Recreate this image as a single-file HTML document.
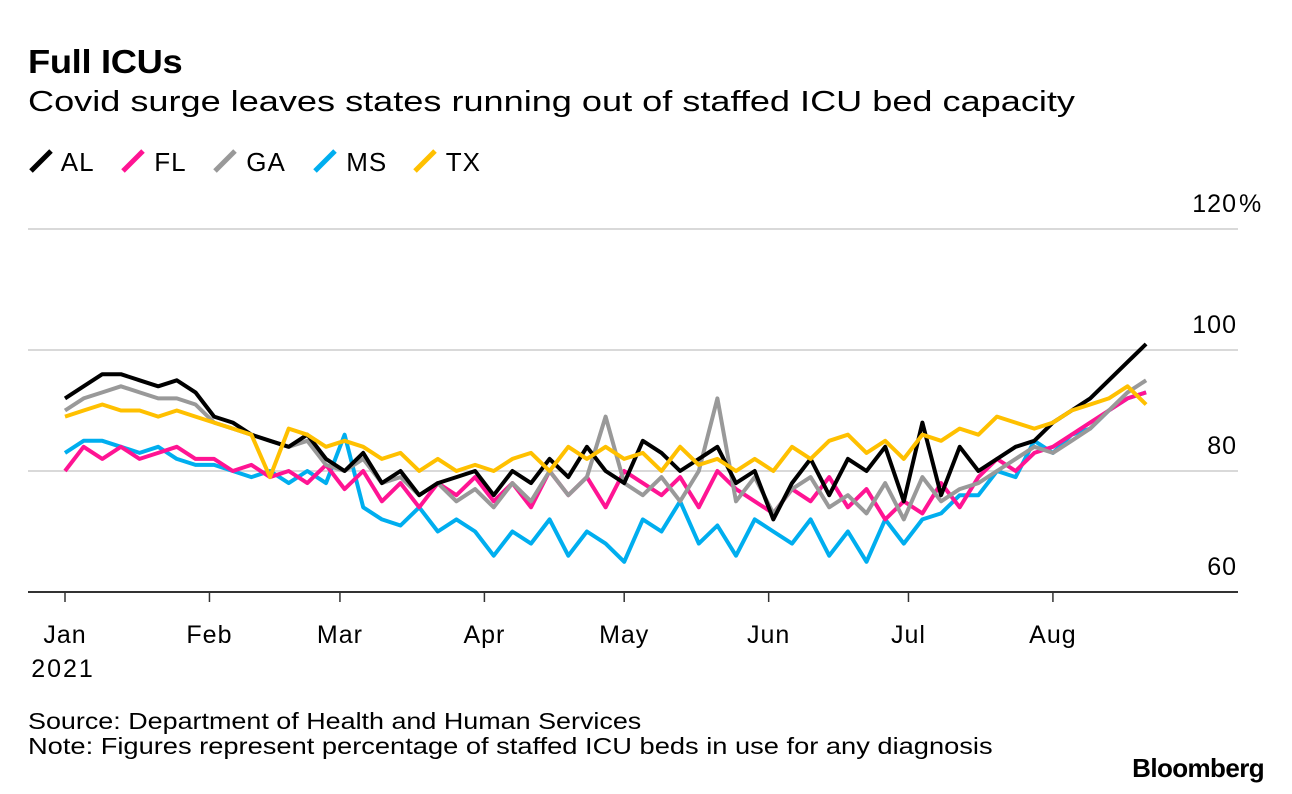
<!DOCTYPE html>
<html><head><meta charset="utf-8"><style>
body{margin:0;background:#fff;font-family:"Liberation Sans",sans-serif;}
.t{position:absolute;white-space:nowrap;color:#000;transform-origin:0 0}
</style></head><body>
<div style="position:relative;width:1292px;height:794px;overflow:hidden">
<div class="t" style="left:28px;top:43px;font-size:33px;font-weight:bold;letter-spacing:-0.3px;transform:scaleX(1.1)">Full ICUs</div>
<div class="t" style="left:28px;top:86px;font-size:29px;transform:scaleX(1.245)">Covid surge leaves states running out of staffed ICU bed capacity</div>
<div id="legend" style="position:absolute;left:28px;top:147px;height:30px"></div>
<svg id="chart" width="1292" height="794" style="position:absolute;left:0;top:0"></svg>
<div class="t" style="left:28px;top:708px;font-size:23px;transform:scaleX(1.17)">Source: Department of Health and Human Services</div>
<div class="t" style="left:28px;top:733px;font-size:23px;transform:scaleX(1.185)">Note: Figures represent percentage of staffed ICU beds in use for any diagnosis</div>
<div class="t" style="right:28px;top:753px;font-size:26px;font-weight:bold;letter-spacing:-0.6px">Bloomberg</div>
</div>
<script>
const states=["AL","FL","GA","MS","TX"];
const colors=["#000000","#ff1493","#999999","#00aeef","#ffc000"];
const dayStep=4;
const AL=[92,94,96,96,95,94,95,93, 89,88,86,85,84,86,82, 80,83,78,80,76,78,79,80, 76,80,78,82,79,84,80, 78,85,83,80,82,84,78,80, 72,78,82,76,82,80,84, 75,88,76,84,80,82,84,85, 88,90,92,95,98,101];
const FL=[80,84,82,84,82,83,84,82, 82,80,81,79,80,78,81, 77,80,75,78,74,78,76,79, 75,78,74,80,76,79,74, 80,78,76,79,74,80,77,75, 73,77,75,79,74,77,72, 75,73,78,74,79,82,80,83, 84,86,88,90,92,93];
const GA=[90,92,93,94,93,92,92,91, 88,87,86,85,84,85,81, 80,82,78,79,76,78,75,77, 74,78,75,80,76,79,89, 78,76,79,75,80,92,75,79, 73,77,79,74,76,73,78, 72,79,75,77,78,80,82,84, 83,85,87,90,93,95];
const MS=[83,85,85,84,83,84,82,81, 81,80,79,80,78,80,78, 86,74,72,71,74,70,72,70, 66,70,68,72,66,70,68, 65,72,70,75,68,71,66,72, 70,68,72,66,70,65,72, 68,72,73,76,76,80,79,85, 83,86,87,90,92,93];
const TX=[89,90,91,90,90,89,90,89, 88,87,86,79,87,86,84, 85,84,82,83,80,82,80,81, 80,82,83,80,84,82,84, 82,83,80,84,81,82,80,82, 80,84,82,85,86,83,85, 82,86,85,87,86,89,88,87, 88,90,91,92,94,91];
const series=[AL,FL,GA,MS,TX];
const yTicks=[60,80,100,120];
const yTickLabels=["60","80","100","120"];
const monthLabels=["Jan","Feb","Mar","Apr","May","Jun","Jul","Aug"];
const monthDays=[0,31,59,90,120,151,181,212];

const NS="http://www.w3.org/2000/svg";
const svg=document.getElementById('chart');
const x=d=>65+d*4.66;
const y=v=>592-(v-60)*6.05;
function mk(t,a){const e=document.createElementNS(NS,t);for(const k in a)e.setAttribute(k,a[k]);svg.appendChild(e);return e;}
yTicks.forEach((t,i)=>{
  const g=mk('line',{x1:28,x2:1238,y1:y(t),y2:y(t),stroke:i==0?'#333':'#d9d9d9','stroke-width':2});
  
  
  const l=mk('text',{x:1237,y:y(t)-17,'text-anchor':'end','font-size':25,'font-family':'Liberation Sans','letter-spacing':'1'});
  l.textContent=yTickLabels[i];
  
  
  if(i==yTicks.length-1){
    const p=mk('text',{x:1239,y:y(t)-17,'font-size':25,'font-family':'Liberation Sans'});
    p.textContent="%";
    
    
  }
});
monthDays.forEach((d,i)=>{
  const tk=mk('line',{x1:x(d),x2:x(d),y1:592,y2:602,stroke:'#333','stroke-width':1.5});
  
  
  const l=mk('text',{x:x(d),y:643,'text-anchor':'middle','font-size':25,'font-family':'Liberation Sans','letter-spacing':'1'});
  l.textContent=monthLabels[i];
  
  
});
const yr=mk('text',{x:x(0)-2,y:677,'text-anchor':'middle','font-size':25,'font-family':'Liberation Sans','letter-spacing':'2'});
yr.textContent="2021";


const order=[3,1,2,0,4];
order.forEach(si=>{
  const pts=series[si].map((v,i)=>x(i*dayStep).toFixed(1)+','+y(v).toFixed(1)).join(' ');
  const p=mk('polyline',{points:pts,fill:'none',stroke:colors[si],'stroke-width':4,'stroke-linejoin':'round'});
  
  
});
const lg=document.getElementById('legend');
const legendX=[0,92,184,284,384];
states.forEach((s,i)=>{
  const e=document.createElement('div');
  
  
  e.style.cssText='position:absolute;top:0;left:'+legendX[i]+'px;font-size:26px;white-space:nowrap;letter-spacing:1px';
  e.innerHTML='<svg width="26" height="26" style="vertical-align:-3px"><line x1="3" y1="23" x2="23" y2="3" stroke="'+colors[i]+'" stroke-width="5"/></svg> '+s;
  lg.appendChild(e);
});
</script>
</body></html>
